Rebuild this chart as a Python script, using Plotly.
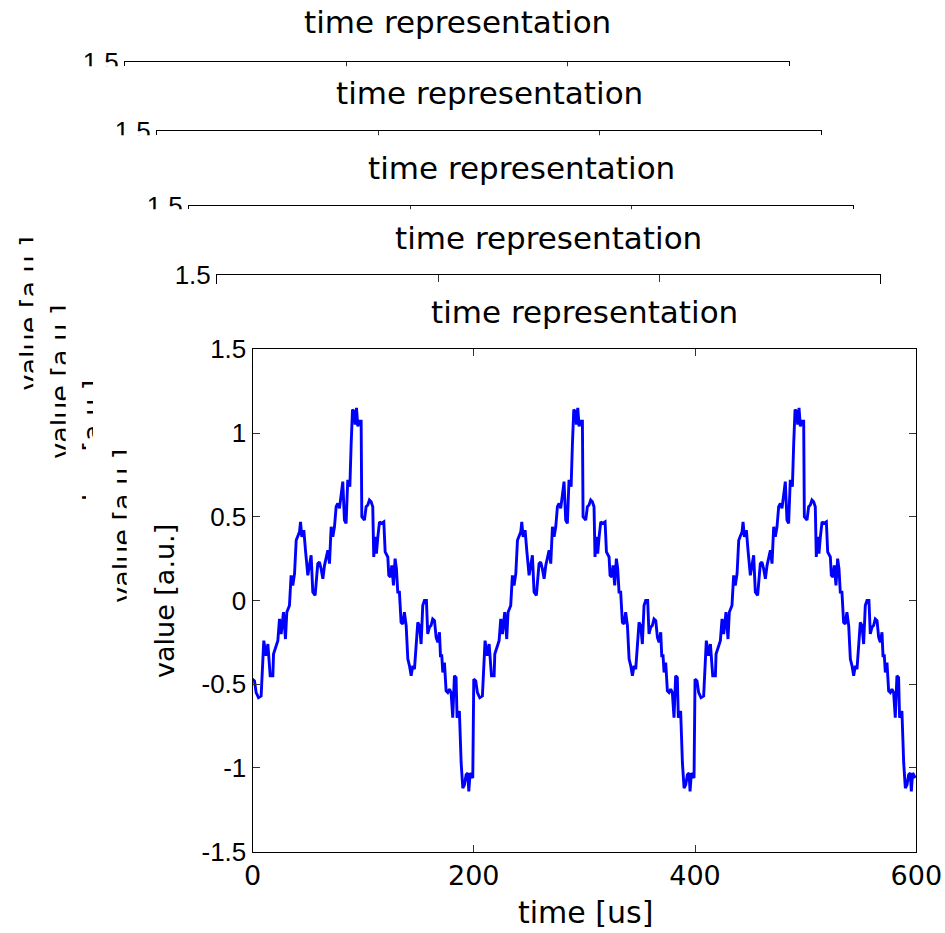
import plotly.graph_objects as go

# ---------------- data (one period, repeated 3x) -------------
t_offset = [0, 1.8, 3.3, 5.4, 7.8, 10.2, 12.3, 13.9, 16.0, 18.4, 19.0, 21.4, 22.9, 24.4,
            25.9, 28.0, 29.8, 31.0, 33.4, 34.9, 36.4, 38.0, 39.5, 42.5, 43.4, 44.6, 46.4,
            47.9, 50.0, 51.5, 53.0, 54.5, 56.6, 59.0, 60.5, 62.0, 63.6, 65.1, 66.6, 68.1,
            69.6, 71.1, 72.6, 74.1, 75.6, 77.1, 78.6, 80.1, 81.6, 83.1, 84.6, 86.1, 88.0,
            89.2, 90.4, 91.6, 92.8, 94.0, 95.2, 96.7, 98.2, 98.8, 101.2, 102.7, 104.2,
            105.7, 107.2, 108.7, 109.6, 110.8, 112.0, 113.3, 114.8, 116.3, 118.7, 119.9,
            122.3, 123.2, 124.7, 125.9, 127.4, 128.9, 130.1, 131.3, 132.8, 134.3, 135.8,
            137.3, 138.9, 140.4, 141.9, 143.4, 144.9, 146.4, 147.9, 149.4, 150.9, 152.4,
            153.9, 155.4, 157.2, 158.4, 159.9, 161.4, 162.9, 164.5, 166.0, 167.5, 169.0,
            169.9, 171.1, 172.0, 173.5, 175.0, 176.5, 178.0, 179.5, 181.0, 182.5, 184.0,
            184.9, 187.0, 188.6, 190.1, 191.6, 193.1, 194.6, 195.5, 196.7, 199.1]
v_period = [-0.47, -0.48, -0.55, -0.58, -0.57, -0.24, -0.33, -0.26, -0.45, -0.45, -0.32,
            -0.27, -0.24, -0.11, -0.20, -0.07, -0.23, -0.07, -0.03, 0.15, 0.09, 0.16, 0.36,
            0.41, 0.47, 0.38, 0.42, 0.30, 0.15, 0.21, 0.27, 0.05, 0.03, 0.22, 0.23, 0.19,
            0.13, 0.21, 0.26, 0.30, 0.22, 0.44, 0.38, 0.44, 0.56, 0.58, 0.55, 0.62, 0.71,
            0.48, 0.46, 0.72, 0.68, 0.94, 1.14, 1.13, 1.05, 1.15, 1.04, 1.07, 1.07, 0.50,
            0.48, 0.56, 0.57, 0.60, 0.59, 0.56, 0.26, 0.38, 0.28, 0.38, 0.47, 0.46, 0.47,
            0.29, 0.26, 0.15, 0.14, 0.21, 0.09, 0.25, 0.19, 0.05, 0.05, -0.13, -0.14, -0.07,
            -0.15, -0.35, -0.39, -0.45, -0.39, -0.41, -0.23, -0.13, -0.15, -0.26, -0.03,
            0.00, 0.00, -0.20, -0.16, -0.15, -0.11, -0.12, -0.22, -0.25, -0.19, -0.33,
            -0.33, -0.43, -0.37, -0.54, -0.55, -0.53, -0.55, -0.70, -0.45, -0.46, -0.70,
            -0.66, -0.97, -1.12, -1.10, -1.04, -1.03, -1.14, -1.03, -1.06]
period_starts = [0, 200, 400]

x_ticks = [0, 200, 400, 600]
x_ticktext = ["0", "200", "400", "600"]
y_ticks = [-1.5, -1, -0.5, 0, 0.5, 1, 1.5]
y_ticktext = ["-1.5", "-1", "-0.5", "0", "0.5", "1", "1.5"]

title_text = "time representation"
xlabel_text = "time [us]"
ylabel_text = "value [a.u.]"

t_all = []
v_all = []
for s in period_starts:
    t_all += [s + o for o in t_offset]
    v_all += list(v_period)

# ---------------- layout geometry (pixels) ----------------
W, H = 945, 933
def px(x):
    return x / W
def py(y):
    return 1 - y / H

# stacked axes: left, right, top (px); the last one is the full front axes
lefts = [125, 157, 189, 217, 252.5]
rights = [789, 821, 853, 880, 916.3]
tops = [62.3, 130.7, 205.7, 274.7, 349.3]
vis = [4, 4.5, 3.5, 9.5]          # visible band of the hidden axes
bottom5 = 851.7
px_per_unit = (bottom5 - tops[4]) / 3.0

TICKFONT_Y = dict(family="Liberation Sans, Arial, sans-serif", size=26, color="black")
TICKFONT_X = dict(family="DejaVu Sans, sans-serif", size=27, color="black")
LABFONT = dict(family="DejaVu Sans, sans-serif", size=27, color="black")
TITLEFONT = dict(family="DejaVu Sans, sans-serif", size=31, color="black")

fig = go.Figure()
layout = dict(width=W, height=H, margin=dict(l=0, r=0, t=0, b=0, pad=0, autoexpand=False),
              autosize=False, paper_bgcolor="white", plot_bgcolor="white", showlegend=False)

common = dict(automargin=False, showgrid=False, zeroline=False, showline=True,
              linecolor="black", linewidth=1, ticks="inside", ticklen=7, tickcolor="#333")

for k in range(5):
    n = k + 1
    xa = "xaxis" if n == 1 else f"xaxis{n}"
    ya = "yaxis" if n == 1 else f"yaxis{n}"
    xr = "x" if n == 1 else f"x{n}"
    yr = "y" if n == 1 else f"y{n}"
    fig.add_trace(go.Scatter(x=t_all, y=v_all, mode="lines", xaxis=xr, yaxis=yr,
                             line=dict(color="#0000FF", width=2.9), hoverinfo="skip"))
    if k < 4:
        ytop = tops[k]
        ybot = tops[k] + vis[k]
        yrange = [1.5 - vis[k] / px_per_unit, 1.5]
        layout[xa] = dict(common, domain=[px(lefts[k]), px(rights[k])], anchor=yr,
                          range=[0, 600], side="top", tickvals=x_ticks,
                          showticklabels=False, mirror=False)
        layout[ya] = dict(common, domain=[py(ybot), py(ytop)], anchor=xr, range=yrange,
                          mirror="ticks", tickvals=[1.5], ticktext=["1.5"],
                          tickfont=TICKFONT_Y)
    else:
        layout[xa] = dict(common, domain=[px(lefts[k]), px(rights[k])], anchor=yr,
                          range=[0, 600], mirror="ticks", tickvals=x_ticks,
                          ticktext=x_ticktext, tickfont=TICKFONT_X)
        layout[ya] = dict(common, domain=[py(bottom5), py(tops[k])], anchor=xr,
                          range=[-1.5, 1.5], mirror="ticks", tickvals=y_ticks,
                          ticktext=y_ticktext, tickfont=TICKFONT_Y)

# ---------------- shapes: clipped y labels of hidden axes, then white covers ----------
shapes = []
label_left = [18.3, 50, 81.7, 111.7]
for k in range(4):
    cy = tops[k] + 251
    cx = label_left[k] + 9
    shapes.append(dict(type="rect", xref="paper", yref="paper",
                       x0=px(cx - 15), x1=px(cx + 15), y0=py(cy + 90), y1=py(cy - 90),
                       line=dict(width=0), fillcolor="rgba(0,0,0,0)",
                       label=dict(text=ylabel_text, textangle=-90, font=LABFONT,
                                  textposition="middle center"), layer="above"))

white = dict(type="rect", xref="paper", yref="paper", line=dict(width=0),
             fillcolor="white", layer="above")
# covers for the y labels (cut along their right side)
cuts = [(33.3, 48, 215, 410), (65.7, 80, 285, 475), (93, 110, 355, 445),
        (86, 110, 445, 550), (126.7, 146, 420, 620)]
for x0, x1, y0, y1 in cuts:
    shapes.append(dict(white, x0=px(x0), x1=px(x1), y0=py(y1), y1=py(y0)))
# covers below the visible band of each hidden axes
for k in range(4):
    yb = tops[k] + vis[k]
    shapes.append(dict(white, x0=px(lefts[k] - 50), x1=px(rights[k] + 6),
                       y0=py(yb + 14), y1=py(yb)))
layout["shapes"] = shapes

# ---------------- annotations: titles and labels of the front axes -----------------
ann = []
title_cy = [22, 93, 168, 238, 312]
for k in range(5):
    ann.append(dict(text=title_text, x=px((lefts[k] + rights[k]) / 2), y=py(title_cy[k]),
                    xref="paper", yref="paper", showarrow=False, font=TITLEFONT,
                    xanchor="center", yanchor="middle"))
ann.append(dict(text=xlabel_text, x=px(585), y=py(912), xref="paper", yref="paper",
                showarrow=False, font=dict(TITLEFONT, size=30), xanchor="center",
                yanchor="middle"))
ann.append(dict(text=ylabel_text, x=px(164), y=py(601), xref="paper", yref="paper",
                showarrow=False, font=LABFONT, textangle=-90, xanchor="center",
                yanchor="middle"))
layout["annotations"] = ann

fig.update_layout(**layout)
fig.write_html("out.html", config={"responsive": False},
               post_script="document.body.style.margin='0px';"
                           "document.documentElement.style.overflow='hidden';")
